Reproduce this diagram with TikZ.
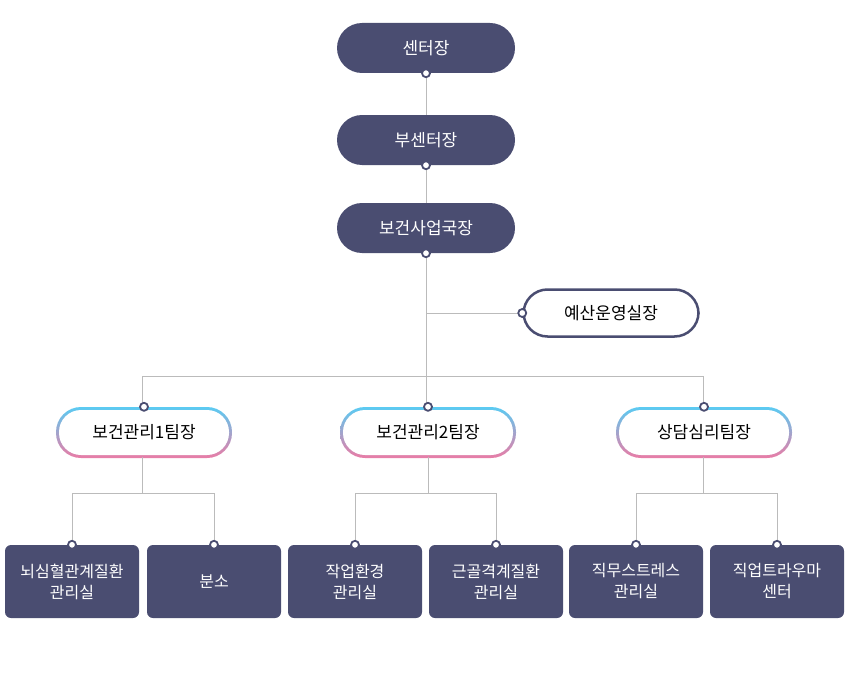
\documentclass[tikz,border=0pt]{standalone}
\usepackage{fontspec}
\setmainfont{Noto Sans CJK KR}
\begin{document}
\begin{tikzpicture}[x=1pt,y=-1pt,
  dk/.style={fill=boxc,draw=none,rounded corners=25pt,minimum width=178pt,minimum height=50pt,text=white,font=\fontsize{17}{20}\selectfont},
  bot/.style={fill=boxc,draw=none,rounded corners=6pt,minimum width=134pt,minimum height=73pt,text=white,align=center,font=\fontsize{16}{21}\selectfont},
  ln/.style={draw=lnc,line width=0.8pt},
  dot/.style={circle,fill=white,draw=boxc,line width=1.8pt,inner sep=0pt,minimum size=8pt},
  tm/.style={font=\fontsize{17}{20}\selectfont,text=black}]
\definecolor{boxc}{HTML}{4A4D71}
\definecolor{lnc}{HTML}{BBBBBB}
\definecolor{cy}{HTML}{5BCBF2}
\definecolor{pk}{HTML}{E97CA6}
\useasboundingbox (0,0) rectangle (850,698);
% top chain
\node[dk] (a) at (426,48) {센터장};
\node[dk] (b) at (426,140) {부센터장};
\node[dk] (c) at (426,228) {보건사업국장};
\node[draw=boxc,line width=2.5pt,fill=white,rounded corners=24pt,minimum width=175pt,minimum height=47pt,font=\fontsize{17}{20}\selectfont] (d) at (611,313) {예산운영실장};
\coordinate (j1) at (426,313);
\coordinate (h) at (426,376);
\draw[ln] (a.south) -- (b.north);
\draw[ln] (b.south) -- (c.north);
\draw[ln] (c.south) -- (h);
\draw[ln] (j1) -- (d.west);
% teams
\foreach \n/\x/\t in {t1/144/보건관리1팀장,t2/428/보건관리2팀장,t3/704/상담심리팀장}{
  \shade[top color=cy,bottom color=pk,rounded corners=25pt] (\x-88,407) rectangle (\x+88,458);
  \fill[white,rounded corners=22pt] (\x-85,410) rectangle (\x+85,455);
  \node[tm,minimum width=176pt,minimum height=51pt] (\n) at (\x,432.5) {\t};
}
\coordinate (h1) at (142,376);\coordinate (h3) at (703,376);
\draw[ln] (h1) -- (h3);
\draw[ln] (h1) -- (h1|-t1.north);
\draw[ln] (h) -- (h|-t2.north);
\draw[ln] (h3) -- (h3|-t3.north);
% bottom
\node[bot] (b1) at (72,581.5) {뇌심혈관계질환\\관리실};
\node[bot] (b2) at (214,581.5) {분소};
\node[bot] (b3) at (355,581.5) {작업환경\\관리실};
\node[bot] (b4) at (496,581.5) {근골격계질환\\관리실};
\node[bot] (b5) at (636,581.5) {직무스트레스\\관리실};
\node[bot] (b6) at (777,581.5) {직업트라우마\\센터};
\foreach \t/\l/\r/\x in {t1/b1/b2/142,t2/b3/b4/428,t3/b5/b6/703}{
  \draw[ln] (\x,457) -- (\x,493);
  \draw[ln] (\l.north) -- (\l.north|-{(0,493)}) -- (\r.north|-{(0,493)}) -- (\r.north);
}
% dots
\foreach \p in {a.south,b.south,c.south,d.west,t1.north,t2.north,t3.north,b1.north,b2.north,b3.north,b4.north,b5.north,b6.north}
  \node[dot] at (\p) {};
\end{tikzpicture}
\end{document}
